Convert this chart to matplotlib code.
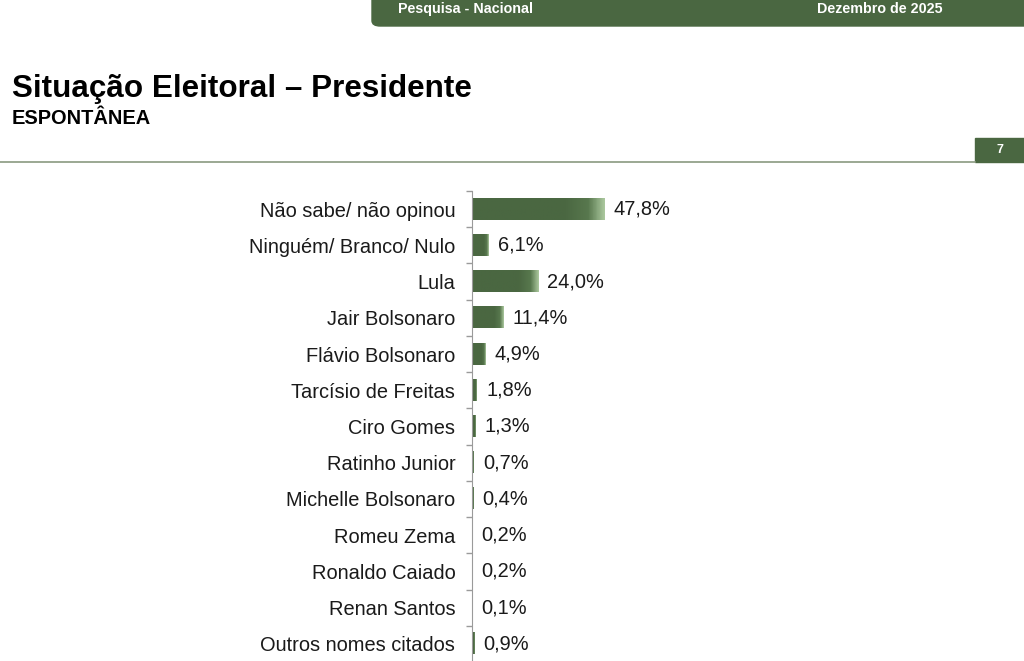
import numpy as np
import matplotlib.pyplot as plt
from matplotlib.patches import Rectangle, FancyBboxPatch
from matplotlib.colors import LinearSegmentedColormap

plt.rcParams['font.family'] = ['Liberation Sans', 'DejaVu Sans']

names = ['Não sabe/ não opinou', 'Ninguém/ Branco/ Nulo', 'Lula', 'Jair Bolsonaro',
         'Flávio Bolsonaro', 'Tarcísio de Freitas', 'Ciro Gomes', 'Ratinho Junior',
         'Michelle Bolsonaro', 'Romeu Zema', 'Ronaldo Caiado', 'Renan Santos',
         'Outros nomes citados']
values = [47.8, 6.1, 24.0, 11.4, 4.9, 1.8, 1.3, 0.7, 0.4, 0.2, 0.2, 0.1, 0.9]
labels = ['47,8%', '6,1%', '24,0%', '11,4%', '4,9%', '1,8%', '1,3%', '0,7%',
          '0,4%', '0,2%', '0,2%', '0,1%', '0,9%']

GREEN = '#4a6741'
W, H = 1024, 661
fig = plt.figure(figsize=(W/100, H/100), dpi=100)

# header band
fig.patches.append(FancyBboxPatch((372/W, 1 - 26/H), 700/W, 40/H, boxstyle='round,pad=0,rounding_size=0.008',
                                  transform=fig.transFigure, color=GREEN, zorder=0))
fig.text(398/W, 1 - 9/H, 'Pesquisa - Nacional', color='white', fontsize=10.3, weight='bold', va='center')
fig.text(817/W, 1 - 9/H, 'Dezembro de 2025', color='white', fontsize=10.3, weight='bold', va='center')

fig.text(12/W, 1 - 89/H, 'Situação Eleitoral – Presidente', fontsize=22.6, weight='bold', va='center')
fig.text(12/W, 1 - 118/H, 'ESPONTÂNEA', fontsize=14.4, weight='bold', va='center')

# separator line + page number box
fig.add_artist(plt.Line2D([0, 975/W], [1 - 162/H, 1 - 162/H], color='#8a9a80', lw=1.2,
                          transform=fig.transFigure))
fig.patches.append(Rectangle((975/W, 1 - 162/H), 49/W, 24/H, transform=fig.transFigure,
                             color=GREEN, zorder=0))
fig.text(1000/W, 1 - 150/H, '7', color='white', fontsize=9, weight='bold', ha='center', va='center')

ax = fig.add_axes([472/W, 1 - 662/H, 528/W, 471/H])
n = len(values)

grad = np.linspace(0, 1, 100).reshape(1, -1)
cmap = LinearSegmentedColormap.from_list('g', [(0, GREEN), (0.7, GREEN), (0.88, '#58784e'), (1, '#a9c69c')])
bh = 0.58
for i, (v, lab) in enumerate(zip(values, labels)):
    ax.imshow(grad, extent=(0, v, i + bh/2, i - bh/2), aspect='auto', cmap=cmap, zorder=2)
    ax.text(v + 3.3, i, lab, va='center', ha='left', fontsize=14.4, color='#1a1a1a')

ax.set_xlim(0, 191)
ax.set_ylim(n - 0.5, -0.5)
ax.set_yticks(range(n))
ax.set_yticklabels(names, fontsize=14.4, color='#1a1a1a')
ax.set_yticks(np.arange(-0.5, n, 1), minor=True)
ax.tick_params(axis='y', which='major', length=0, pad=12)
ax.tick_params(axis='y', which='minor', length=4, color='#9a9a9a', width=1)
ax.set_xticks([])
for s in ['top', 'right', 'bottom']:
    ax.spines[s].set_visible(False)
ax.spines['left'].set_color('#9a9a9a')

fig.savefig('out.png', dpi=100)
